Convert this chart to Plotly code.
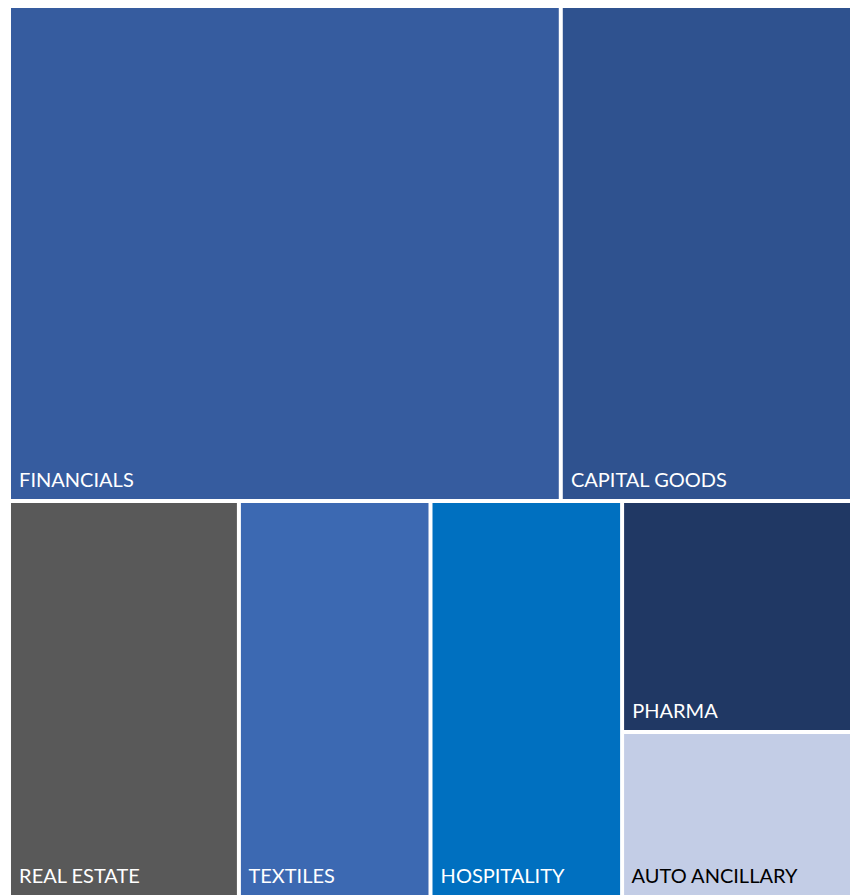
import plotly.graph_objects as go

# sector weights
sectors = ['FINANCIALS', 'CAPITAL GOODS', 'REAL ESTATE', 'TEXTILES', 'HOSPITALITY', 'PHARMA', 'AUTO ANCILLARY']
weights = [36, 19, 12, 10, 10, 7, 5]
colors = ['#365C9F', '#2F528F', '#595959', '#3C69B2', '#0070C0', '#203864', '#C3CDE6']
label_colors = ['white', 'white', 'white', 'white', 'white', 'white', 'black']
# grouping used to reproduce the row/column layout of the original
groups = ['top', 'top', 'bottom', 'bottom', 'bottom', 'pair', 'pair']

ids, parents, values, text, marker_colors, font_colors = [], [], [], [], [], []

def add_node(node_id, parent, value=0, label='', color='white', font_color='white'):
	ids.append(node_id)
	parents.append(parent)
	values.append(value)
	# nbsp + oversized trailing nbsp keep the label off the cell edges
	text.append(f'\u00a0{label}<span style="font-size:44px">\u00a0</span>' if label else '')
	marker_colors.append(color)
	font_colors.append(font_color)

add_node('all', '')
add_node('top', 'all')
add_node('bottom', 'all')
for i, sector in enumerate(sectors):
	if groups[i] == 'pair' and 'pair' not in ids:
		add_node('pair', 'bottom')
	add_node(sector, groups[i], weights[i], sector, colors[i], label_colors[i])

fig = go.Figure(go.Treemap(
	ids=ids,
	labels=ids,
	parents=parents,
	values=values,
	text=text,
	textinfo='text',
	textposition='bottom left',
	textfont=dict(family='Lato', size=20, color=font_colors),
	sort=False,
	hoverinfo='skip',
	marker=dict(colors=marker_colors, line=dict(width=0), pad=dict(t=0, l=0, r=0, b=0)),
	tiling=dict(packing='dice-slice', pad=4),
	pathbar=dict(visible=False),
	root=dict(color='white')))

fig.update_layout(
	width=864, height=896,
	margin=dict(l=3, r=22, t=0, b=9),
	paper_bgcolor='white',
	showlegend=False)

fig.write_html('out.html')
